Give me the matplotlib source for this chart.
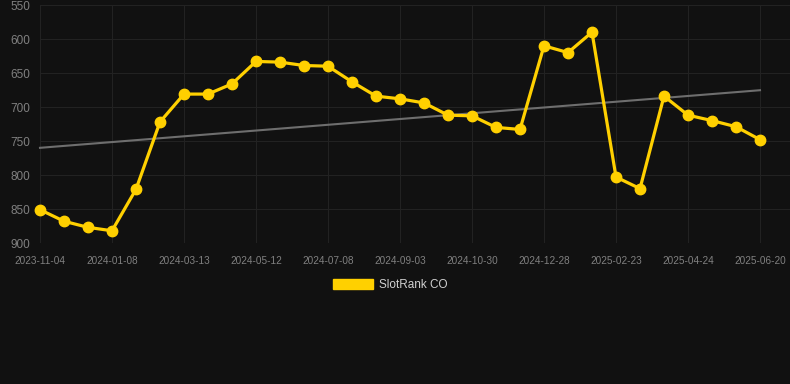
import matplotlib
matplotlib.use('Agg')
import matplotlib.pyplot as plt
from matplotlib.patches import Patch
import numpy as np

plt.rcParams['font.family'] = ['Liberation Sans', 'DejaVu Sans']

# data
dates = ['2023-11-04', '', '', '2024-01-08', '', '', '2024-03-13', '', '', '2024-05-12', '', '',
         '2024-07-08', '', '', '2024-09-03', '', '', '2024-10-30', '', '', '2024-12-28', '', '',
         '2025-02-23', '', '', '2025-04-24', '', '', '2025-06-20']
rank = [851, 868, 877, 882, 821, 722, 681, 681, 666, 633, 634, 639, 640, 663, 684, 688,
        694, 712, 713, 730, 733, 610, 620, 590, 803, 820, 684, 712, 720, 729, 748]

bg = '#111111'
gold = '#ffd000'

x = np.arange(len(rank))
k, b = np.polyfit(x, rank, 1)
trend = k * x + b

fig = plt.figure(figsize=(7.9, 3.84), dpi=100, facecolor=bg)
ax = fig.add_axes([40/790, 1-243/384, 750/790, 238/384], facecolor=bg)

ax.plot(x, trend, color='#6e6e6e', lw=1.5, zorder=2, clip_on=False)
ax.plot(x, rank, color=gold, lw=2.3, marker='o', ms=7.5, zorder=3, clip_on=False)

ax.set_xlim(0, 750/24)
ax.set_ylim(900, 550)
ax.set_yticks(range(550, 901, 50))
tick_idx = [i for i, d in enumerate(dates) if d]
ax.set_xticks(tick_idx)
ax.set_xticklabels([dates[i] for i in tick_idx])

ax.grid(True, color='#222222', lw=0.8)
ax.set_axisbelow(True)
for s in ax.spines.values():
    s.set_visible(False)
ax.tick_params(axis='y', length=0, colors='#808080', labelsize=8.5, pad=7)
ax.tick_params(axis='x', length=0, colors='#808080', labelsize=7.2, pad=9)

fig.legend(handles=[Patch(color=gold, label='SlotRank CO')], loc='center',
           bbox_to_anchor=(390/790, 1-285/384), frameon=False, fontsize=8.5,
           labelcolor='#d0d0d0', handlelength=3.4, handleheight=0.9, handletextpad=0.5)

fig.savefig('out.png', dpi=100, facecolor=bg)
